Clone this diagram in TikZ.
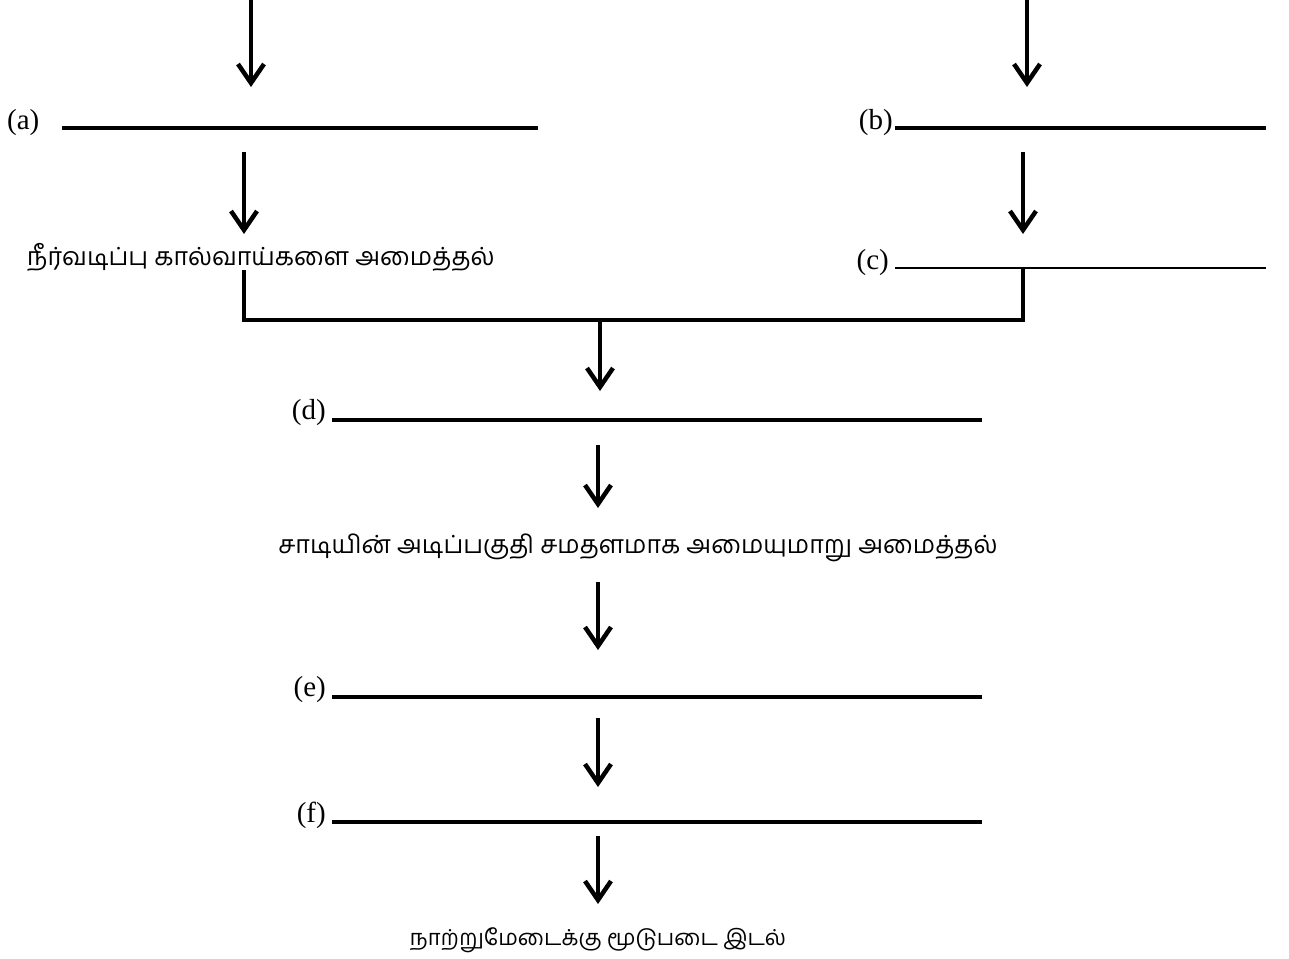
\documentclass[tikz,border=0pt]{standalone}
\usepackage{fontspec}
\setmainfont{Liberation Serif}
\newfontfamily\tamil[Script=Tamil]{Hind Madurai}
\usetikzlibrary{arrows.meta}
\begin{document}
\begin{tikzpicture}[x=1pt,y=-1pt,
  flow/.style={line width=4pt,-{Straight Barb[length=19pt,width=26pt,line width=4.5pt]}},
  blank/.style={line width=3.2pt},
  link/.style={line width=4pt,line join=miter},
  lbl/.style={font=\fontsize{29}{32}\selectfont,inner sep=0pt},
  tam/.style={font=\tamil\fontsize{25}{30}\selectfont,inner sep=0pt}]
\useasboundingbox (0,0) rectangle (1289,958);
% left column
\coordinate (a0) at (251,0);
\coordinate (a1) at (251,87);
\draw[flow] (a0) -- (a1);
\node[lbl,anchor=west] (la) at (7,123) {(a)};
\coordinate (as) at (62,128); \coordinate (ae) at (538,128);
\draw[blank] (as) -- (ae);
\coordinate (a2) at (244,152); \coordinate (a3) at (244,234);
\draw[flow] (a2) -- (a3);
\node[tam,anchor=west] (t1) at (27,257) {நீர்வடிப்பு கால்வாய்களை அமைத்தல்};
% right column
\coordinate (b0) at (1027,0);
\coordinate (b1) at (1027,87);
\draw[flow] (b0) -- (b1);
\node[lbl,anchor=east] (lb) at (893,123) {(b)};
\coordinate (bs) at (895,128); \coordinate (be) at (1266,128);
\draw[blank] (bs) -- (be);
\coordinate (b2) at (1023,152); \coordinate (b3) at (1023,234);
\draw[flow] (b2) -- (b3);
\node[lbl,anchor=east] (lc) at (889,263) {(c)};
\coordinate (cs) at (895,268); \coordinate (ce) at (1266,268);
\draw[line width=2.2pt] (cs) -- (ce);
% bracket
\coordinate (j1) at (244,270);
\coordinate (j2) at (1023,268);
\coordinate (jm) at (600,320);
\draw[link] (j1) |- (jm) -| (j2);
\coordinate (d0) at (600,391);
\draw[flow] (jm) -- (d0);
% center column
\node[lbl,anchor=east] (ld) at (326,413) {(d)};
\coordinate (ds) at (332,420); \coordinate (de) at (982,420);
\draw[blank] (ds) -- (de);
\coordinate (d1) at (598,445); \coordinate (d2) at (598,508);
\draw[flow] (d1) -- (d2);
\node[tam] (t2) at (638,548) {சாடியின் அடிப்பகுதி சமதளமாக அமையுமாறு அமைத்தல்};
\coordinate (e0) at (598,582); \coordinate (e1) at (598,650);
\draw[flow] (e0) -- (e1);
\node[lbl,anchor=east] (le) at (326,690) {(e)};
\coordinate (es) at (332,697); \coordinate (ee) at (982,697);
\draw[blank] (es) -- (ee);
\coordinate (e2) at (598,718); \coordinate (e3) at (598,787);
\draw[flow] (e2) -- (e3);
\node[lbl,anchor=east] (lf) at (326,815) {(f)};
\coordinate (fs) at (332,822); \coordinate (fe) at (982,822);
\draw[blank] (fs) -- (fe);
\coordinate (f0) at (598,836); \coordinate (f1) at (598,904);
\draw[flow] (f0) -- (f1);
\node[tam,font=\tamil\fontsize{22}{26}\selectfont] (t3) at (598,940) {நாற்றுமேடைக்கு மூடுபடை இடல்};
\end{tikzpicture}
\end{document}
